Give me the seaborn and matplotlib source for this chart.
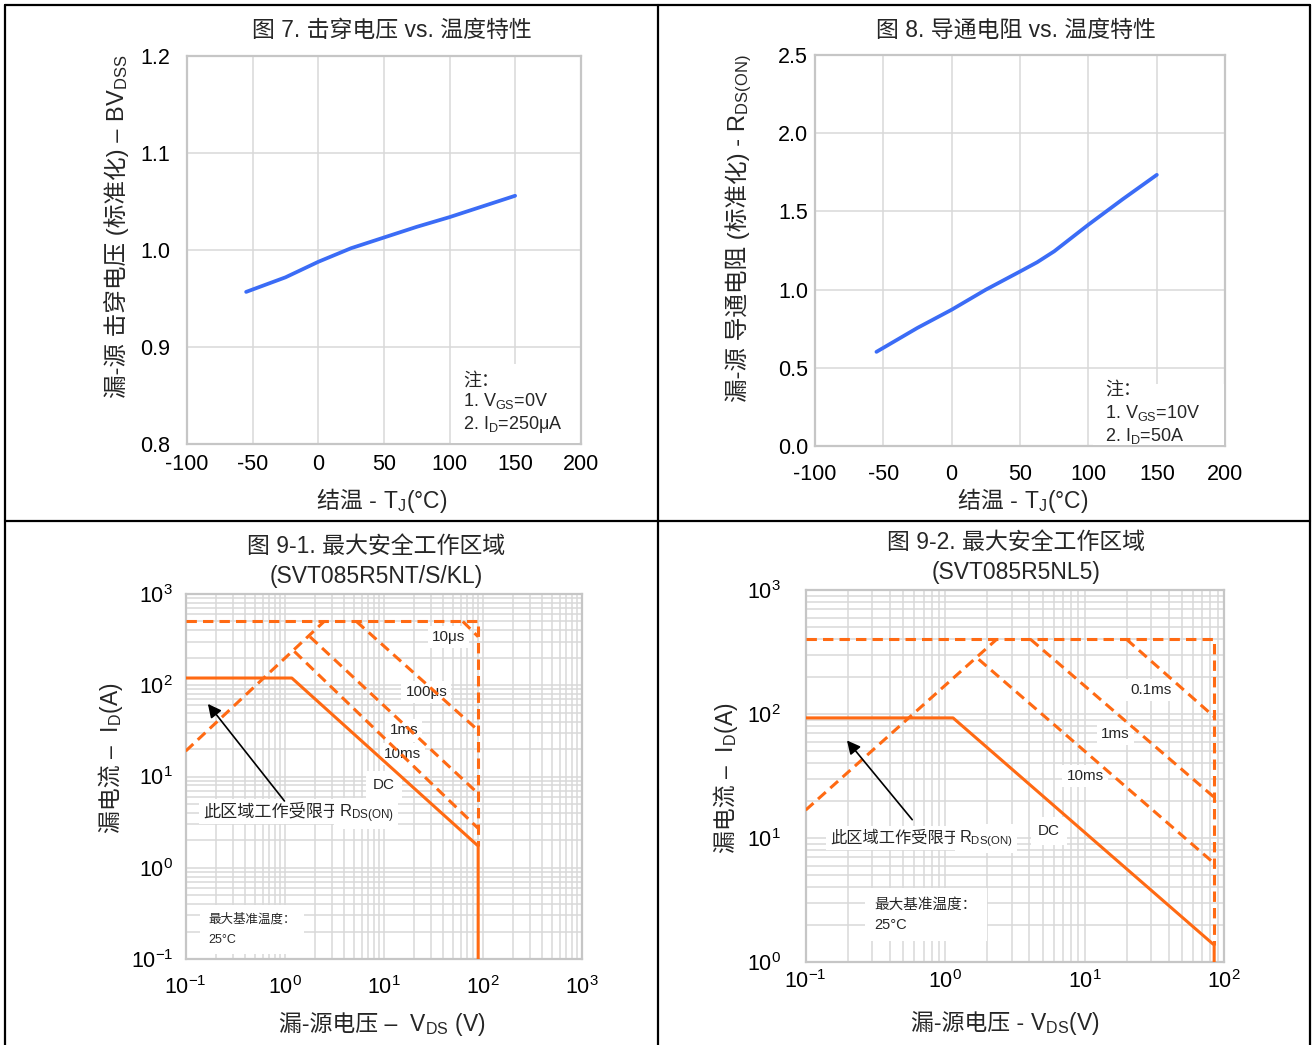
import numpy as np
import matplotlib
matplotlib.use("Agg")
import matplotlib.pyplot as plt
from matplotlib.lines import Line2D
from matplotlib.patches import Rectangle
from matplotlib.ticker import LogLocator, NullFormatter, FormatStrFormatter
import seaborn as sns

# ---- data ----
# Fig 7: normalised BVDSS vs junction temperature
bv_temp = [-55, -25, 0, 25, 50, 75, 100, 125, 150]
bv_norm = [0.957, 0.972, 0.988, 1.002, 1.013, 1.024, 1.034, 1.045, 1.056]

# Fig 8: normalised RDS(on) vs junction temperature
rds_temp = [-55, -25, 0, 25, 50, 62.5, 75, 87.5, 100, 125, 150]
rds_norm = [0.603, 0.756, 0.872, 1.0, 1.116, 1.175, 1.245, 1.33, 1.415, 1.577, 1.733]

# Fig 9-1: SOA (SVT085R5NT/S/KL)
soa1_lim_v = [0.1, 90, 90]
soa1_lim_i = [500, 500, 1.73]
soa1_rds_v = [0.1, 2.5]
soa1_rds_i = [19, 500]
soa1_dc_v = [0.1, 1.18, 90, 90]
soa1_dc_i = [120, 120, 1.73, 0.1]
soa1_pulse_labels = ["10μs", "100μs", "1ms", "10ms"]
soa1_pulse_v = [[63, 90], [5.3, 90], [1.8, 90], [1.25, 90]]
soa1_pulse_i = [[500, 340], [500, 32], [340, 6.5], [235, 2.7]]

# Fig 9-2: SOA (SVT085R5NL5)
soa2_lim_v = [0.1, 85, 85]
soa2_lim_i = [400, 400, 1.37]
soa2_rds_v = [0.1, 2.34]
soa2_rds_i = [16.8, 400]
soa2_dc_v = [0.1, 1.14, 85, 85]
soa2_dc_i = [93, 93, 1.37, 1.0]
soa2_pulse_labels = ["0.1ms", "1ms", "10ms"]
soa2_pulse_v = [[20, 85], [4.1, 85], [1.74, 85]]
soa2_pulse_i = [[400, 95], [400, 21.3], [276, 6.25]]

W, H = 1313, 1045
BLUE = "#3b6cf6"
ORANGE = "#ff6a13"
GRID = "#d9d9d9"
FRAME = "#c6c6c6"
DASH = (0, (3.4, 2.0))

sns.set_theme(style="whitegrid")
plt.rcParams["font.family"] = ["Liberation Sans", "Noto Sans CJK SC"]
plt.rcParams["mathtext.fontset"] = "custom"
plt.rcParams["mathtext.rm"] = "Liberation Sans"
plt.rcParams["mathtext.it"] = "Liberation Sans:italic"
plt.rcParams["mathtext.bf"] = "Liberation Sans:bold"
plt.rcParams["axes.unicode_minus"] = False

fig = plt.figure(figsize=(W / 100, H / 100), dpi=100, facecolor="white")


def px_axes(l, t, r, b):
    return fig.add_axes([l / W, 1 - b / H, (r - l) / W, (b - t) / H])


def ftext(x, y, s, size=16.5, **kw):
    kw.setdefault("ha", "center")
    kw.setdefault("va", "center")
    fig.text(x / W, 1 - y / H, s, fontsize=size, **kw)


def mixed(x, y, left, right, size=16.5, rotation=0):
    # chinese part ends at (x, y), latin/subscript part starts there
    kw = dict(fontsize=size, rotation=rotation, rotation_mode="anchor", va="baseline")
    fig.text(x / W, 1 - y / H, left, ha="right", **kw)
    fig.text(x / W, 1 - y / H, right, ha="left", **kw)


def white_box(l, t, r, b):
    fig.add_artist(Rectangle((l / W, 1 - b / H), (r - l) / W, (b - t) / H,
                             transform=fig.transFigure, facecolor="white",
                             edgecolor="none", zorder=1))


def style(ax, log=False):
    ax.set_facecolor("white")
    for sp in ax.spines.values():
        sp.set_color(FRAME)
        sp.set_linewidth(1.6)
    if log:
        ax.set_xscale("log")
        ax.set_yscale("log")
        for a in (ax.xaxis, ax.yaxis):
            a.set_major_locator(LogLocator(base=10))
            a.set_minor_locator(LogLocator(base=10, subs=np.arange(2, 10)))
            a.set_minor_formatter(NullFormatter())
    ax.grid(True, which="both", color=GRID, lw=1.1)
    ax.tick_params(which="both", length=0, labelsize=15.5, colors="black")
    ax.set_xlabel("")
    ax.set_ylabel("")


def line(ax, x, y, color, dashed=False, lw=2.2):
    sns.lineplot(x=x, y=y, ax=ax, color=color, lw=lw, estimator=None, sort=False,
                 linestyle=DASH if dashed else "-", zorder=4, legend=False)


box = dict(facecolor="white", edgecolor="none", pad=3)
SUB_GS = "$_{\\mathregular{GS}}$"
SUB_D = "$_{\\mathregular{D}}$"

# ---------- Fig 7 ----------
ax1 = px_axes(187.1, 56, 580.7, 444.3)
line(ax1, bv_temp, bv_norm, BLUE, lw=2.7)
style(ax1)
ax1.set_xlim(-100, 200)
ax1.set_ylim(0.8, 1.2)
ax1.set_xticks(np.arange(-100, 201, 50))
ax1.set_yticks([0.8, 0.9, 1.0, 1.1, 1.2])
ax1.yaxis.set_major_formatter(FormatStrFormatter("%.1f"))
ax1.tick_params(axis="x", pad=7)
ax1.tick_params(axis="y", pad=12)
white_box(451, 364, 579, 443)
ftext(463, 386, "注：", size=13, ha="left", va="baseline", zorder=3)
ftext(463, 406, "1. V" + SUB_GS + "=0V", size=13, ha="left", va="baseline", zorder=3)
ftext(463, 429, "2. I" + SUB_D + "=250μA", size=13, ha="left", va="baseline", zorder=3)
ftext(391.5, 30, "图 7. 击穿电压 vs. 温度特性")
mixed(124, 128, "漏-源 击穿电压 (标准化) –", " BV$_{\\mathregular{DSS}}$", size=17, rotation=90)
mixed(377, 508, "结温 -", " T$_{\\mathregular{J}}$(°C)")

# ---------- Fig 8 ----------
ax2 = px_axes(814.9, 54.7, 1225.2, 446.3)
line(ax2, rds_temp, rds_norm, BLUE, lw=2.7)
style(ax2)
ax2.set_xlim(-100, 200)
ax2.set_ylim(0, 2.5)
ax2.set_xticks(np.arange(-100, 201, 50))
ax2.set_yticks(np.arange(0, 2.51, 0.5))
ax2.yaxis.set_major_formatter(FormatStrFormatter("%.1f"))
ax2.tick_params(axis="x", pad=13)
ax2.tick_params(axis="y", pad=5)
white_box(1093, 384, 1224, 445)
ftext(1105, 395, "注：", size=13, ha="left", va="baseline", zorder=3)
ftext(1105, 418, "1. V" + SUB_GS + "=10V", size=13, ha="left", va="baseline", zorder=3)
ftext(1105, 441, "2. I" + SUB_D + "=50A", size=13, ha="left", va="baseline", zorder=3)
ftext(1015.5, 30, "图 8. 导通电阻 vs. 温度特性")
mixed(745, 138, "漏-源 导通电阻 (标准化) -", " R$_{\\mathregular{DS(ON)}}$", size=17, rotation=90)
mixed(1018, 508, "结温 -", " T$_{\\mathregular{J}}$(°C)")

# ---------- Fig 9-1 ----------
ax3 = px_axes(185.7, 594, 581.7, 959)
line(ax3, soa1_lim_v, soa1_lim_i, ORANGE, dashed=True)
line(ax3, soa1_rds_v, soa1_rds_i, ORANGE, dashed=True)
line(ax3, soa1_dc_v, soa1_dc_i, ORANGE)
for v, i in zip(soa1_pulse_v, soa1_pulse_i):
    line(ax3, v, i, ORANGE, dashed=True)
style(ax3, log=True)
ax3.set_xlim(0.1, 1000)
ax3.set_ylim(0.1, 1000)
ax3.tick_params(axis="x", pad=12)
ax3.tick_params(axis="y", pad=9)
for lab, (x, y) in zip(soa1_pulse_labels, [(45, 340), (27, 85), (16, 32), (15.5, 17.5)]):
    ax3.text(x, y, lab, fontsize=11, ha="center", va="center", zorder=3, bbox=box)
ax3.text(10, 8.1, "DC", fontsize=11, ha="center", va="center", zorder=3,
         bbox=dict(facecolor="white", edgecolor="none", pad=5))
ax3.text(3.6, 3.6, "此区域工作受限于", fontsize=12.3, ha="right", va="baseline",
         zorder=3, bbox=box)
ax3.text(3.5, 3.6, "R$_{\\mathregular{DS(ON)}}$", fontsize=12, ha="left", va="baseline",
         zorder=3, bbox=box)
ax3.annotate("", xy=(0.161, 66), xytext=(1.035, 5.1), zorder=5,
             arrowprops=dict(arrowstyle="-|>", color="black", lw=1.2, mutation_scale=20))
ax3.text(0.168, 0.21, "最大基准温度：\n25°C", fontsize=9, ha="left", va="center",
         linespacing=1.9, zorder=3, bbox=dict(facecolor="white", edgecolor="none", pad=6))
ftext(376, 546, "图 9-1. 最大安全工作区域")
ftext(376, 576, "(SVT085R5NT/S/KL)")
mixed(118, 745, "漏电流 –", "  I$_{\\mathregular{D}}$(A)", rotation=90)
mixed(397, 1031, "漏-源电压 –", "  V$_{\\mathregular{DS}}$ (V)")

# ---------- Fig 9-2 ----------
ax4 = px_axes(805.7, 590, 1224, 962)
line(ax4, soa2_lim_v, soa2_lim_i, ORANGE, dashed=True)
line(ax4, soa2_rds_v, soa2_rds_i, ORANGE, dashed=True)
line(ax4, soa2_dc_v, soa2_dc_i, ORANGE)
for v, i in zip(soa2_pulse_v, soa2_pulse_i):
    line(ax4, v, i, ORANGE, dashed=True)
style(ax4, log=True)
ax4.set_xlim(0.1, 100)
ax4.set_ylim(1, 1000)
ax4.tick_params(axis="x", pad=6)
ax4.tick_params(axis="y", pad=18)
for lab, (x, y) in zip(soa2_pulse_labels, [(30, 156), (16.6, 68.5), (10.1, 31.6)]):
    ax4.text(x, y, lab, fontsize=11, ha="center", va="center", zorder=3, bbox=box)
ax4.text(5.55, 11.4, "DC", fontsize=11, ha="center", va="center", zorder=3,
         bbox=dict(facecolor="white", edgecolor="none", pad=5))
ax4.text(1.29, 9.2, "此区域工作受限于", fontsize=11.7, ha="right", va="baseline",
         zorder=3, bbox=box)
ax4.text(1.26, 9.2, "R$_{\\mathregular{DS(ON)}}$", fontsize=11.7, ha="left", va="baseline",
         zorder=3, bbox=box)
ax4.annotate("", xy=(0.192, 63.7), xytext=(0.598, 13.5), zorder=5,
             arrowprops=dict(arrowstyle="-|>", color="black", lw=1.2, mutation_scale=20))
ax4.text(0.312, 2.4, "最大基准温度：\n25°C", fontsize=10.5, ha="left", va="center",
         linespacing=1.5, zorder=3, bbox=dict(facecolor="white", edgecolor="none", pad=7))
ftext(1016, 542, "图 9-2. 最大安全工作区域")
ftext(1016, 572, "(SVT085R5NL5)")
mixed(733, 765, "漏电流 –", "  I$_{\\mathregular{D}}$(A)", rotation=90)
mixed(1024, 1030, "漏-源电压 -", " V$_{\\mathregular{DS}}$(V)")

# ---------- panel borders ----------
for (x0, y0, x1, y1) in [(4.5, 5, 1310, 5), (4.5, 5, 4.5, 1045), (1310, 5, 1310, 1045),
                         (657.5, 5, 657.5, 1045), (4.5, 521, 1310, 521)]:
    fig.add_artist(Line2D([x0 / W, x1 / W], [1 - y0 / H, 1 - y1 / H],
                          transform=fig.transFigure, color="black", lw=1.6))

fig.savefig("out.png", dpi=100, facecolor="white")
